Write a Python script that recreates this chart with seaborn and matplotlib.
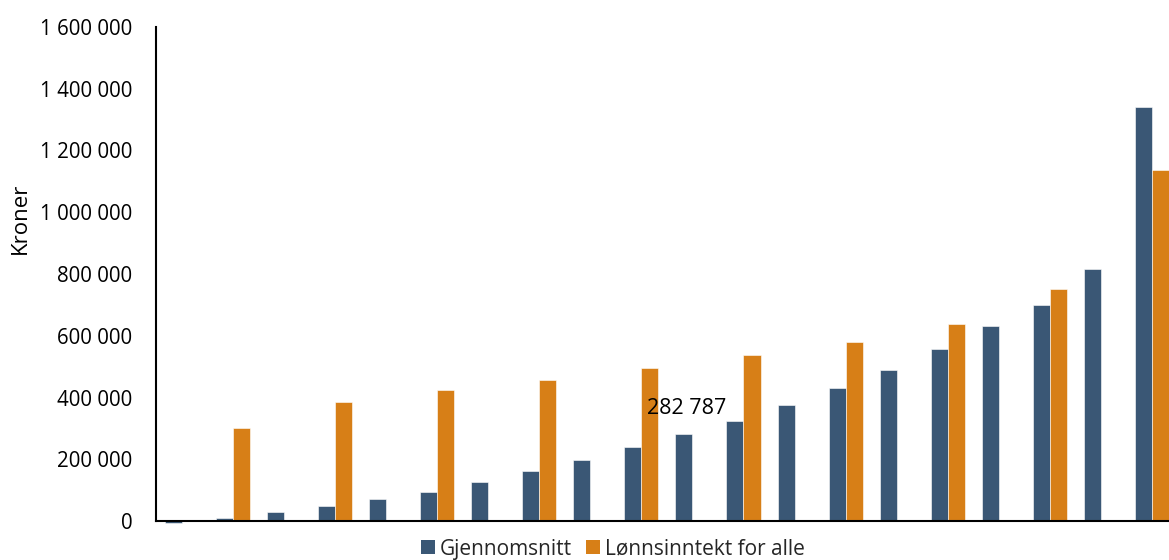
import numpy as np
import pandas as pd
import matplotlib
matplotlib.use("Agg")
import matplotlib.pyplot as plt
from matplotlib.ticker import FuncFormatter, MultipleLocator
from matplotlib.patches import Patch
import seaborn as sns

categories = [str(i) for i in range(1, 21)]
gjennomsnitt = [-6000, 9700, 28000, 47600, 70000, 93000, 126000, 162000, 199000, 238700,
                282787, 324000, 374700, 431000, 490000, 558000, 630000, 700000, 815000, 1340000]
lonnsinntekt = [None, 301000, None, 384500, None, 423000, None, 458000, None, 496500,
                None, 536700, None, 581000, None, 639000, None, 750000, None, 1136000]
series_names = ["Gjennomsnitt", "Lønnsinntekt for alle"]
colors = ["#3A5775", "#D77F17"]
label_index = 10
label_text = "282 787"

rows = []
for c, g, l in zip(categories, gjennomsnitt, lonnsinntekt):
    rows.append({"cat": c, "series": series_names[0], "value": g})
    if l is not None:
        rows.append({"cat": c, "series": series_names[1], "value": l})
df = pd.DataFrame(rows)

sns.set_style("white")
plt.rcParams["font.family"] = ["Open Sans", "DejaVu Sans"]

fig = plt.figure(figsize=(11.69, 5.6), dpi=100)
ax = fig.add_axes([156 / 1169, 1 - 521 / 560, 1 - 156 / 1169, (521 - 27) / 560])

sns.barplot(data=df, x="cat", y="value", hue="series", order=categories,
            hue_order=series_names, palette=colors, width=0.667, errorbar=None,
            saturation=1, ax=ax, edgecolor="white", linewidth=0.4)
for p in ax.patches:
    p.set_clip_on(False)
if ax.get_legend() is not None:
    ax.get_legend().remove()

ax.set_ylim(0, 1600000)
ax.set_xlim(-0.5, 19.33)
ax.yaxis.set_major_locator(MultipleLocator(200000))
ax.yaxis.set_major_formatter(FuncFormatter(lambda v, _: f"{int(round(v)):,}".replace(",", " ")))
ax.tick_params(axis="y", direction="in", length=5, width=1.2, labelsize=14.8, pad=17, colors="black")
ax.tick_params(axis="x", bottom=False, labelbottom=False)
ax.set_xlabel("")
ax.set_ylabel("Kroner", fontsize=16, color="black")
ax.yaxis.set_label_coords(-0.124, 0.613)

for s in ["top", "right"]:
    ax.spines[s].set_visible(False)
for s in ["left", "bottom"]:
    ax.spines[s].set_color("black")
    ax.spines[s].set_linewidth(1.5)

ax.annotate(label_text, xy=(label_index - 0.1667, gjennomsnitt[label_index]),
            xytext=(3, 25), textcoords="offset pixels", ha="center", va="center",
            fontsize=15.5, color="black")

handles = [Patch(facecolor=c, edgecolor="none", label=n) for c, n in zip(colors, series_names)]
fig.legend(handles=handles, loc="center", bbox_to_anchor=(613 / 1169, 1 - 549 / 560),
           ncol=2, frameon=False, fontsize=15, handlelength=0.65, handleheight=0.65,
           handletextpad=0.25, columnspacing=0.7, borderpad=0.1)

fig.savefig("out.png", dpi=100)
